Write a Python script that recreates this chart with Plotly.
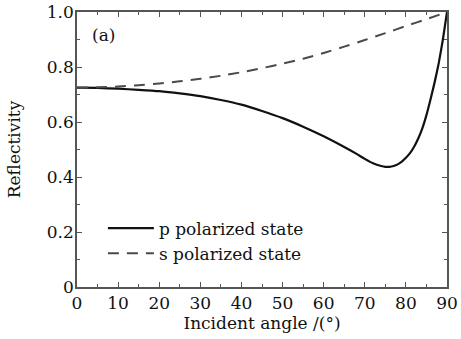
import plotly.graph_objects as go

# Data
angle_s = [0, 5, 10, 15, 20, 25, 30, 35, 40, 45, 50, 55, 60, 65, 70, 75, 80, 85, 90]
refl_s = [0.725, 0.726, 0.729, 0.734, 0.740, 0.748, 0.757, 0.768, 0.781, 0.796,
          0.812, 0.830, 0.851, 0.874, 0.898, 0.923, 0.949, 0.974, 1.0]

angle_p = [0, 5, 10, 15, 20, 25, 30, 35, 40, 45, 50, 55, 60, 65, 68, 70, 72, 74, 75,
           76, 77, 78, 79, 80, 81, 82, 83, 84, 85, 86, 87, 88, 89, 90]
refl_p = [0.725, 0.724, 0.721, 0.717, 0.712, 0.704, 0.694, 0.680, 0.663, 0.640,
          0.614, 0.583, 0.548, 0.509, 0.484, 0.466, 0.450, 0.440, 0.437,
          0.437, 0.440, 0.446, 0.456, 0.470, 0.487, 0.510, 0.540, 0.577, 0.625,
          0.683, 0.745, 0.815, 0.900, 1.0]

x_ticks = [0, 10, 20, 30, 40, 50, 60, 70, 80, 90]
y_ticks = [0, 0.2, 0.4, 0.6, 0.8, 1.0]
y_ticktext = ["0", "0.2", "0.4", "0.6", "0.8", "1.0"]

FONT = "'DejaVu Serif', 'Liberation Serif', 'Times New Roman', serif"
FS = 17
AXC = "#555555"
TXT = "#111111"

fig = go.Figure()
fig.add_trace(go.Scatter(x=angle_p, y=refl_p, mode="lines", name="p polarized state",
                         line=dict(color="#111111", width=2.2, shape="spline", smoothing=0.5)))
fig.add_trace(go.Scatter(x=angle_s, y=refl_s, mode="lines", name="s polarized state",
                         line=dict(color="#4a4a4a", width=2, dash="11px,8px", shape="spline", smoothing=0.5)))

axis_common = dict(
    showline=True, linecolor=AXC, linewidth=1.5, mirror="ticks",
    ticks="inside", ticklen=5, tickwidth=1.2, tickcolor=AXC,
    showgrid=False, zeroline=False, automargin=False,
    tickfont=dict(family=FONT, size=FS, color=TXT),
)

fig.update_xaxes(range=[0, 90], tickvals=x_ticks,
                 minor=dict(ticks="inside", dtick=5, ticklen=3, tickwidth=1.2, tickcolor=AXC),
                 title=dict(text="Incident angle /(°)", font=dict(family=FONT, size=FS, color=TXT), standoff=2),
                 **axis_common)
fig.update_yaxes(range=[0, 1.0], tickvals=y_ticks, ticktext=y_ticktext,
                 ticklabelstandoff=-2,
                 minor=dict(ticks="inside", dtick=0.1, ticklen=3, tickwidth=1.2, tickcolor=AXC),
                 title=dict(text="Reflectivity", font=dict(family=FONT, size=FS, color=TXT), standoff=22),
                 **axis_common)

fig.add_annotation(x=0.035, y=0.915, xref="paper", yref="paper", text="(a)", showarrow=False,
                   xanchor="left", yanchor="middle", font=dict(family=FONT, size=FS, color=TXT))

fig.update_layout(
    width=461, height=339,
    margin=dict(l=77, r=14, t=12, b=52),
    paper_bgcolor="white", plot_bgcolor="white",
    showlegend=True,
    legend=dict(x=0.07, y=0.278, xanchor="left", yanchor="top", bgcolor="rgba(0,0,0,0)",
                font=dict(family=FONT, size=FS, color=TXT), itemwidth=46,
                tracegroupgap=0),
)

fig.write_html("out.html")
